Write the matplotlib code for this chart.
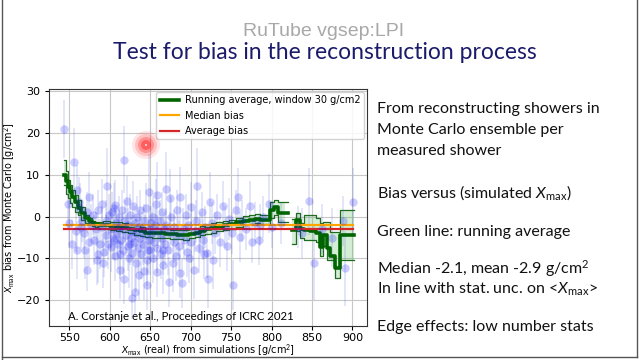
import numpy as np
import matplotlib
matplotlib.use("Agg")
import matplotlib.pyplot as plt
from matplotlib.patches import Circle
from matplotlib.lines import Line2D

# ---- scatter: Xmax (real) vs bias, with error bars ----
x_pts = [543, 556, 560, 563, 566, 568, 570, 572, 575, 577, 579, 581, 583, 584, 586, 588, 590, 591,
         593, 595, 596, 597, 599, 550, 553, 558, 559.5, 562, 565, 548, 572, 574, 592, 598, 586,
         601, 602, 603, 604, 605, 606, 607, 608, 609, 610, 611, 612, 613, 614, 615, 616, 617, 618,
         619, 620, 621, 622, 623, 624, 625, 626, 627, 627.5, 628, 629, 630, 631, 631.6, 632, 633,
         634, 635, 636, 637, 638, 639, 640, 641, 642, 643, 644, 645, 646, 647, 648, 648.5, 649,
         650, 650.5, 645.5, 636.5, 624.5, 612.5, 605.5, 617.5,
         652, 653, 654, 655, 656, 657, 658, 658.5, 659, 660, 662, 663, 664, 665, 666, 667, 668,
         669.5, 670, 672, 672.7, 674, 675, 676, 678.6, 679, 680, 682, 683, 684, 686, 687, 687.5,
         689, 690, 692, 694, 695, 697, 700, 701, 703.6, 705, 707, 708, 710, 712, 714, 716, 718,
         720, 722, 715, 698, 665.5,
         724, 726, 728, 730, 733, 736, 740, 742, 745, 748, 751, 753, 756, 759, 761, 764, 768, 773,
         776, 780, 784, 786, 790, 797, 800, 812,
         833, 838, 846, 853, 862, 875, 888, 891, 900.5]
y_pts = [21, 13.2, 6.4, 2.0, -1, -4, -8, -12.8, 4.8, -2, 0.5, -5.5, -3, -10.4, 1.5, -6.5, -2.5, 3,
         -8.5, -1, -4.5, 7.4, 0.5, -1.5, -6.5, -3.5, -8, 3.5, -2.5, 3, 1, -6, -11, -6.5, -9,
         -7.2, -3, 1, -5, 2, -9.5, 2.8, -1.5, -4, -6.5, 0, -2.5, -12.8, -5.5, 1.5, -8, -3, 13.6,
         -1, -4.5, 3.8, -7, -2, -10, 0.5, -5, -8.8, -19.6, -3.5, 2.6, -6, -1.5, -18, -4, -11,
         0, -7.5, -2.5, -5, 1.5, -9, -3, -6.5, -13, -1, -4.5, 2, -16.4, -8, 6, -3, -5.5,
         -8, -1.5, -10.5, -14, -6.5, -9, -5.5, -15,
         -4, 0, -10, -6, -2, 3, 5.2, -13.2, -7.5, -3.5, -1, -9, -5, 1, -11.5, -3, -6.5,
         6.6, -2, -8, -15.6, -4, 4.4, 0, -11, -6, -2.5, -9.5, 1.5, -4.5, -7, 4.8, -13.6,
         -16, -3, -5.5, 0.5, -8.5, -2, 2.4, -6, -12.8, -3.5, -1, 7.4, -7.5, -4, 1, -9, -2.5,
         -8.8, -15, -5.5, -10, -8,
         3.6, -1.5, -10.4, -4, 0.5, -6, 2.6, -2.5, -7, -0.5, -4, -16.4, 1.5, 4.6, -4.8, -1, -3, 2.6,
         -6, -1.5, -5.6, -2, 0, 3.1, -2.5, -1.5,
         -2.5, -4, 3.7, -11, -3, -5, -1, -12.4, 3.6]
y_err = [7, 8, 6, 6, 5, 6, 7, 5, 6, 5, 5, 6, 4, 6, 5, 6, 5, 6,
         6, 5, 5, 9, 5, 6, 6, 5, 7, 6, 5, 6, 5, 6, 6, 6, 7,
         6, 5, 5, 5, 6, 6, 6, 4, 5, 6, 5, 4, 7, 5, 5, 6, 4, 8,
         5, 5, 6, 6, 4, 7, 5, 5, 6, 5, 4, 6, 5, 4, 6, 4, 7,
         5, 6, 4, 5, 5, 6, 4, 5, 7, 4, 5, 6, 6, 6, 9, 4, 5,
         6, 4, 6, 6, 5, 6, 5, 6,
         5, 5, 6, 5, 4, 6, 8, 6, 6, 4, 5, 6, 5, 5, 7, 4, 5,
         9, 4, 6, 6, 5, 7, 5, 7, 5, 4, 6, 5, 5, 6, 7, 6,
         6, 5, 5, 5, 6, 5, 6, 5, 7, 5, 5, 9, 6, 5, 5, 6, 5,
         6, 7, 5, 6, 6,
         7, 5, 7, 5, 5, 6, 6, 5, 6, 5, 5, 6, 5, 7, 6, 5, 5, 6,
         5, 5, 6, 5, 5, 7, 5, 5,
         5, 6, 8, 9, 6, 7, 6, 9, 8]

# ---- running average (window 30 g/cm2) and its band ----
nan = np.nan
ra_x = [543, 546, 549, 551, 553, 557, 561, 565, 570, 574, 578, 582, 586, 592, 600, 608, 615, 622,
        630, 637, 644, 652, 660, 668, 675, 683, 691, 698, 705, 712, 718, 725, 732, 740, 748, 756,
        765, 772, 780, 786, 792, 798, 803, 808, 813, 817, 821, 825, 830, 835, 840, 848, 855, 860,
        864, 868, 872, 878, 885, 892, 902]
ra_mid = [10, 8.6, 7.2, 6, 4.8, 3.4, 2.0, 0.8, -0.4, -1.0, -1.6, -1.8, -2.0, -2.1, -2.2, -2.4,
          -2.6, -2.9, -3.2, -3.5, -3.8, -3.9, -4.0, -4.1, -4.2, -4.3, -4.4, -4.1, -3.8, -3.4,
          -3.0, -2.7, -2.4, -2.1, -1.8, -1.4, -1.0, -0.8, -0.6, -0.8, -0.7, 1.6, 2.2, 0.8, 0.8,
          0.8, nan, -3.2, -0.8, -3.0, -3.3, -3.5, -3.8, -7.2, -4.5, -7.5, -9.5, -12.2, -4.5,
          -4.5, -4.5]
ra_hi = [13.6, 11, 8.8, 7.6, 6.4, 5.2, 4.0, 2.2, 0.4, -0.4, -1.0, -1.2, -1.2, -1.1, -1.2, -1.3,
         -1.5, -1.8, -2.1, -2.4, -2.7, -2.8, -2.9, -3.0, -3.1, -3.2, -3.3, -3.0, -2.7, -2.3,
         -1.9, -1.6, -1.3, -1.0, -0.7, -0.3, 0.1, 0.4, 0.6, 0.4, 0.5, 3.6, 4.0, 3.6, 3.6,
         3.6, nan, -0.5, 0.8, -1.5, 0.4, 0.4, -0.3, -1.5, -1.2, -1.2, -3.6, -3.6, 1.6,
         1.6, 1.6]
ra_lo = [7.6, 5.5, 4.4, 3.2, 2.4, 1.2, 0.4, -0.8, -1.6, -2.0, -2.2, -2.5, -2.8, -3.0, -3.2, -3.5,
         -3.7, -4.0, -4.3, -4.6, -4.9, -5.0, -5.1, -5.2, -5.3, -5.4, -5.5, -5.2, -4.9, -4.5,
         -4.1, -3.8, -3.5, -3.2, -2.9, -2.5, -2.1, -1.8, -1.6, -1.8, -1.7, -0.3, 0.4, -1.2, -1.2,
         -1.2, nan, -6.5, -3.5, -5.0, -5.5, -5.5, -6.0, -9.5, -7.0, -10.4, -10.4, -14.7, -10.4,
         -10.4, -10.4]

median_bias = -2.1
mean_bias = -2.9

bullets = [
    "From reconstructing showers in",
    "Monte Carlo ensemble per",
    "measured shower",
    "Bias versus (simulated $X_{\\mathrm{max}}$)",
    "Green line: running average",
    "Median -2.1, mean -2.9 g/cm$^2$",
    "In line with stat. unc. on <$X_{\\mathrm{max}}$>",
    "Edge effects: low number stats",
]
bullet_y = [109, 130, 151, 193, 232, 269, 289, 327]  # pixel rows on the slide

plt.rcParams['mathtext.fontset'] = 'custom'
plt.rcParams['mathtext.rm'] = 'Lato'
plt.rcParams['mathtext.it'] = 'Lato:italic'

fig = plt.figure(figsize=(6.4, 3.6), dpi=100)
fig.patch.set_facecolor("white")

# slide title + watermark
fig.text(0.506, 0.912, "RuTube vgsep:LPI", ha="center", va="center", color="#a8a8a8",
         fontsize=14, family="Liberation Sans")
fig.text(0.508, 0.853, "Test for bias in the reconstruction process", ha="center", va="center",
         color="#1b1b6b", fontsize=16.5, family="Lato")

for txt, py in zip(bullets, bullet_y):
    fig.text(0.589, 1 - py / 360, txt, ha="left", va="center", fontsize=11.5,
             family="Lato", color="#111111")

# slide frame
fig.add_artist(Line2D([0.003, 0.003], [0.0, 1.0], color="#555555", lw=1))
fig.add_artist(Line2D([0.995, 0.995], [0.008, 1.0], color="#555555", lw=1))
fig.add_artist(Line2D([0.003, 0.995], [0.008, 0.008], color="#555555", lw=1))

ax = fig.add_axes([0.0766, 0.0944, 0.4968, 0.6586])
ax.set_axisbelow(True)
ax.grid(True, color="#c8c8c8", lw=0.8)

ax.errorbar(x_pts, y_pts, yerr=y_err, fmt="o", color="blue", ms=6, mew=0,
            alpha=0.2, elinewidth=1.2, ecolor="#5a6bd8")

ra_x = np.array(ra_x)
ax.fill_between(ra_x, ra_lo, ra_hi, step="post", color="#3cb043", alpha=0.22, lw=0)
ax.plot(ra_x, ra_hi, drawstyle="steps-post", color="#1f6b1f", lw=0.9)
ax.plot(ra_x, ra_lo, drawstyle="steps-post", color="#1f6b1f", lw=0.9)
ax.plot(ra_x, ra_mid, drawstyle="steps-post", color="darkgreen", lw=2.6,
        label="Running average, window 30 g/cm2")
ax.plot([min(x_pts), max(x_pts)], [median_bias] * 2, color="orange", lw=1.6, label="Median bias")
ax.plot([min(x_pts), max(x_pts)], [mean_bias] * 2, color="#d62728", lw=1.6, label="Average bias")

ax.set_xlim(525, 918)
ax.set_ylim(-26.2, 30.6)
ax.set_xticks(np.arange(550, 901, 50))
ax.set_yticks([-20, -10, 0, 10, 20, 30])
ax.tick_params(labelsize=8, length=3)
ax.tick_params(axis="x", pad=2)
ax.set_xlabel("$X_{\\mathrm{max}}$ (real) from simulations [g/cm$^2$]", fontsize=7,
              family="DejaVu Sans")
ax.set_ylabel("$X_{\\mathrm{max}}$ bias from Monte Carlo [g/cm$^2$]", fontsize=7,
              family="DejaVu Sans")
ax.xaxis.set_label_coords(0.5, -0.07)
ax.yaxis.set_label_coords(-0.097, 0.5)
for s in ax.spines.values():
    s.set_color("#333333")

ax.legend(loc="upper right", fontsize=7, framealpha=0.85, borderpad=0.35,
          handlelength=2.0, handletextpad=0.6, labelspacing=0.55, borderaxespad=0.3)

ax.text(548.8, -24, "A. Corstanje et al., Proceedings of ICRC 2021", fontsize=8.2,
        family="Lato", va="center", ha="left")

# cursor highlight on the recording
for r, a in [(0.14, 0.10), (0.11, 0.15), (0.08, 0.25), (0.05, 0.35)]:
    fig.add_artist(Circle((1.46, 3.6 - 1.45), r, transform=fig.dpi_scale_trans,
                          color="red", alpha=a, lw=0))
fig.add_artist(Circle((1.46, 3.6 - 1.45), 0.01, transform=fig.dpi_scale_trans,
                      color="white", alpha=0.8, lw=0))

fig.savefig("out.png", dpi=100)
